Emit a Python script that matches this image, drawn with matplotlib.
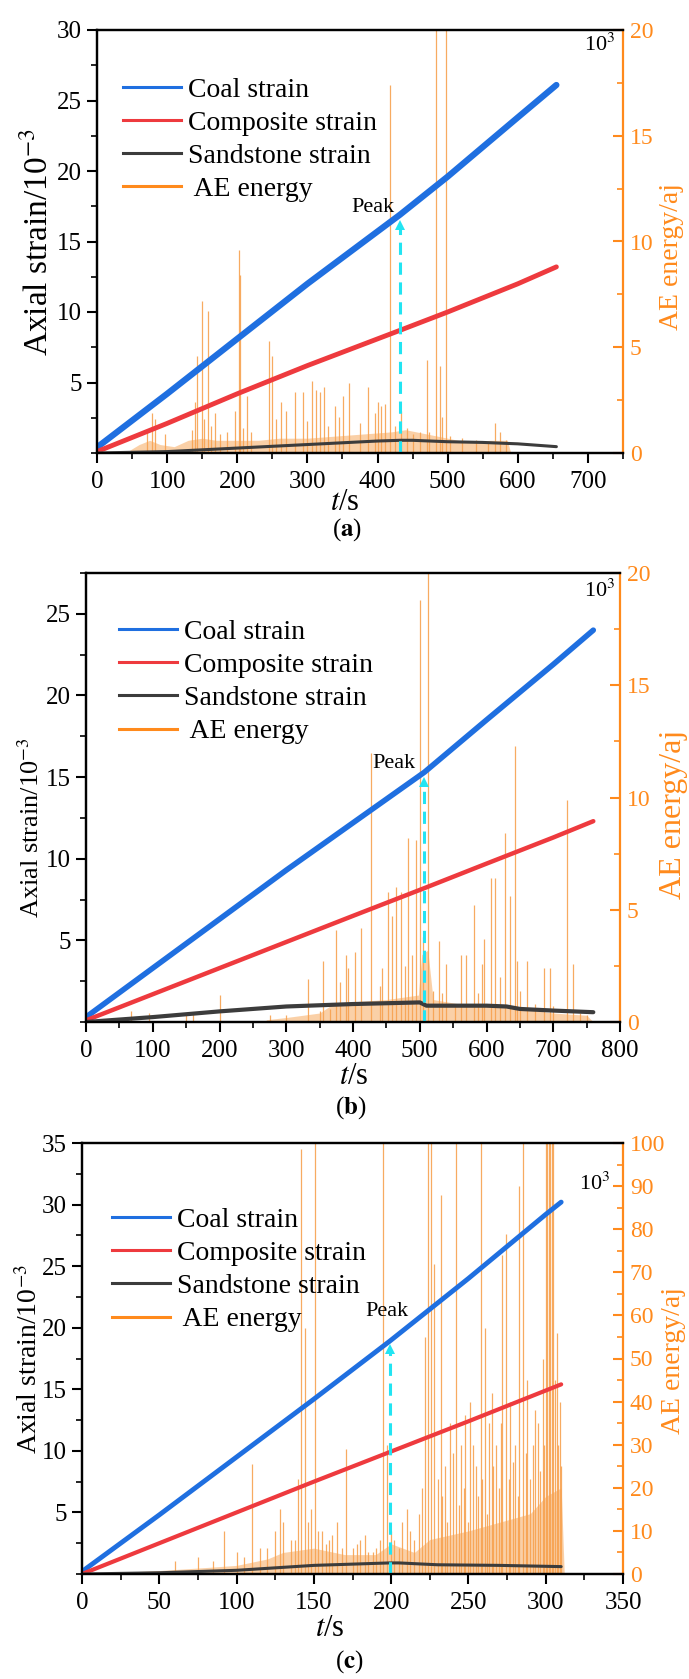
import matplotlib
matplotlib.use("Agg")
import matplotlib.pyplot as plt
from matplotlib.lines import Line2D
from matplotlib.ticker import MultipleLocator

plt.rcParams['font.family'] = ['Liberation Serif', 'DejaVu Serif']
plt.rcParams['mathtext.fontset'] = 'stix'

W, H = 689, 1679

COAL_C = "#1f6fe0"
COMP_C = "#ee3a3e"
SAND_C = "#3c3c3c"
AE_C = "#ff8a1c"
SPIKE_C = "#f7a250"
PEAK_C = "#22e4f2"

# ---------------- panel (a) ----------------
A_T = [0, 100, 200, 300, 432, 500, 600, 655]
A_COAL = [0.4, 4.2, 8.1, 12.0, 16.9, 19.6, 23.8, 26.1]
A_COMP = [0.1, 2.1, 4.2, 6.2, 8.7, 10.0, 12.0, 13.2]
A_SAND_T = [0, 100, 200, 300, 400, 432, 450, 500, 550, 600, 655]
A_SAND = [0.0, 0.1, 0.35, 0.6, 0.85, 0.9, 0.9, 0.8, 0.75, 0.65, 0.45]
A_AE_T = [72, 78, 83, 97, 135, 140, 143, 150, 153, 158, 163, 168, 175, 185, 197,
          202, 204, 208, 214, 220, 245, 250, 255, 262, 270, 282, 294, 300, 307,
          312, 318, 323, 330, 340, 345, 351, 360, 375, 387, 396, 400, 405, 411,
          418, 425, 433, 442, 450, 460, 470, 474, 483, 489, 492, 498, 503, 520,
          540, 558, 568, 575, 583]
A_AE = [1.0, 1.9, 1.6, 0.9, 1.1, 2.4, 4.6, 7.2, 1.6, 6.7, 1.3, 1.9, 0.9, 1.0, 2.0,
        9.6, 8.4, 1.2, 2.7, 1.0, 5.3, 4.6, 1.6, 2.4, 2.0, 2.9, 2.9, 1.5, 3.4,
        3.0, 2.9, 3.1, 1.3, 2.2, 1.7, 2.7, 3.3, 1.4, 3.1, 1.9, 2.4, 2.2, 2.3,
        17.4, 1.3, 2.0, 1.2, 0.9, 1.0, 4.4, 1.0, 20.5, 4.1, 1.7, 20.5, 0.8, 0.7,
        0.6, 0.5, 1.4, 1.0, 0.6]
A_GRASS_T = [45, 60, 75, 90, 110, 130, 150, 170, 200, 230, 260, 300, 340, 380,
             420, 440, 470, 500, 530, 560, 585, 590]
A_GRASS = [0.1, 0.4, 0.6, 0.4, 0.3, 0.6, 0.7, 0.6, 0.6, 0.6, 0.7, 0.7, 0.8, 0.9,
           1.0, 1.1, 0.9, 0.7, 0.5, 0.6, 0.6, 0.0]
A_PEAK = (432, 16.8)
A_YTICKS = [5, 10, 15, 20, 25, 30]
A_XTICKS = [0, 100, 200, 300, 400, 500, 600, 700]
A_RTICKS = [0, 5, 10, 15, 20]

# ---------------- panel (b) ----------------
B_T = [0, 100, 200, 300, 400, 507, 600, 700, 760]
B_COAL = [0.3, 3.3, 6.3, 9.3, 12.2, 15.3, 18.5, 21.9, 24.0]
B_COMP = [0.1, 1.7, 3.3, 4.9, 6.5, 8.2, 9.7, 11.3, 12.3]
B_SAND_T = [0, 100, 200, 300, 400, 500, 510, 600, 630, 650, 700, 760]
B_SAND = [0.0, 0.3, 0.65, 0.95, 1.1, 1.2, 1.0, 1.0, 0.95, 0.8, 0.7, 0.6]
B_AE_T = [67, 95, 150, 160, 200, 275, 300, 332, 350, 355, 365, 374, 381, 389,
          393, 403, 412, 427, 440, 443, 452, 459, 465, 472, 478, 482, 488, 495,
          501, 505, 513, 520, 529, 533, 540, 553, 562, 569, 582, 588, 593, 597,
          607, 613, 620, 627, 635, 642, 646, 650, 661, 672, 686, 695, 700, 721,
          729, 740, 750]
B_AE = [0.5, 0.4, 0.3, 0.4, 1.2, 0.3, 0.3, 1.9, 0.5, 2.7, 0.6, 4.1, 1.8, 3.0,
        2.4, 3.1, 4.2, 12.0, 1.6, 2.4, 5.8, 4.7, 6.0, 5.8, 2.5, 8.2, 3.0, 8.1,
        18.8, 3.8, 20.5, 1.4, 3.6, 1.3, 2.6, 0.8, 3.0, 3.0, 5.2, 1.3, 2.6, 3.7,
        6.4, 6.4, 2.0, 8.4, 5.6, 12.3, 2.7, 1.4, 2.7, 0.8, 2.4, 2.4, 0.7, 9.9,
        2.6, 0.4, 0.3]
B_GRASS_T = [270, 300, 350, 370, 400, 450, 498, 503, 512, 520, 560, 600, 650,
             700, 750, 760]
B_GRASS = [0.1, 0.2, 0.4, 0.8, 0.9, 1.0, 1.2, 3.0, 3.2, 1.0, 0.8, 0.8, 0.6,
           0.4, 0.3, 0.0]
B_PEAK = (507, 15.3)
B_YTICKS = [5, 10, 15, 20, 25]
B_XTICKS = [0, 100, 200, 300, 400, 500, 600, 700, 800]
B_RTICKS = [0, 5, 10, 15, 20]

# ---------------- panel (c) ----------------
C_T = [0, 50, 100, 150, 199, 250, 300, 310]
C_COAL = [0.2, 4.8, 9.5, 14.2, 18.9, 24.0, 29.2, 30.2]
C_COMP = [0.0, 2.5, 5.0, 7.5, 9.9, 12.4, 14.9, 15.4]
C_SAND_T = [0, 50, 100, 150, 199, 205, 230, 270, 310]
C_SAND = [0.0, 0.1, 0.3, 0.7, 0.9, 0.9, 0.75, 0.7, 0.6]
C_AE_T = [60, 75, 85, 92, 100, 105, 110, 115, 120, 125, 128, 130, 135, 138, 140,
          142, 144, 146, 148, 151, 153, 155, 158, 160, 162, 165, 168, 171, 175,
          178, 180, 183, 185, 188, 190, 193, 195, 197, 200, 202, 205, 207, 210,
          212, 215, 218, 220, 222, 224, 226, 228, 230, 232, 233, 235, 236, 238,
          240, 242, 244, 245, 247, 248, 250, 251, 253, 255, 256, 258, 259, 261,
          262, 263, 265, 266, 268, 270, 271, 272, 274, 276, 277, 279, 280, 282,
          283, 285, 287, 288, 290, 292, 293, 295, 296, 298, 299, 300, 301, 302,
          303, 304, 305, 306, 307, 308, 309, 310]
C_AE = [3, 4, 3, 10, 5, 4, 25.6, 6, 6, 10, 15, 12, 8, 8, 22,
        98.5, 57, 12, 15, 101, 10, 10, 7, 8, 9, 12, 6, 29, 6,
        7, 8, 9, 5, 5, 6, 8, 101, 30, 10, 8, 6, 12, 15,
        10, 8, 14, 20, 55, 101, 101, 72, 22, 88, 18, 25, 12, 35,
        28, 101, 16, 30, 20, 37, 12, 40, 30, 25, 18, 101, 22, 57,
        14, 35, 42, 25, 30, 20, 35, 74, 79, 22, 40, 26, 30, 18,
        90, 101, 28, 45, 22, 30, 38, 35, 24, 50, 30, 101, 101, 101,
        101, 101, 101, 45, 56, 30, 40, 25]
C_GRASS_T = [20, 50, 80, 100, 120, 130, 150, 170, 190, 200, 215, 225, 250, 270,
             290, 300, 310, 312]
C_GRASS = [0.3, 0.8, 1.5, 2.0, 3.5, 5.0, 6.0, 4.5, 4.5, 7.0, 5.0, 8.0, 10.0,
           12.0, 14.0, 18.0, 20.0, 0.0]
C_PEAK = (199, 18.9)
C_YTICKS = [5, 10, 15, 20, 25, 30, 35]
C_XTICKS = [0, 50, 100, 150, 200, 250, 300, 350]
C_RTICKS = [0, 10, 20, 30, 40, 50, 60, 70, 80, 90, 100]


def px(x, y):
    """pixel position (from top-left) -> figure fraction"""
    return x / W, 1 - y / H


def draw_panel(fig, box, p):
    l, t, r, b = box
    x0, y1 = px(l, t)
    x1, y0 = px(r, b)
    ax = fig.add_axes([x0, y0, x1 - x0, y1 - y0])
    ax2 = ax.twinx()
    # strain axes on top of the AE spikes
    ax.set_zorder(ax2.get_zorder() + 1)
    ax.patch.set_visible(False)

    # AE energy
    ax2.fill_between(p["grass_t"], 0, p["grass"], color=SPIKE_C, alpha=0.5, lw=0)
    ax2.vlines(p["ae_t"], 0, p["ae"], color=SPIKE_C, lw=0.9, alpha=0.9)
    ax2.set_ylim(0, p["rmax"])
    ax2.set_yticks(p["rticks"])
    ax2.yaxis.set_minor_locator(MultipleLocator(p["rminor"]))
    ax2.tick_params(axis="y", which="major", direction="in", length=7, width=1.5,
                    colors=AE_C, labelsize=17, pad=5)
    ax2.tick_params(axis="y", which="minor", direction="in", length=4, width=1.2,
                    colors=AE_C)
    ax2.spines["right"].set_color(AE_C)
    for s in ax2.spines.values():
        s.set_linewidth(1.6)

    # strains
    ax.plot(p["t"], p["coal"], color=COAL_C, lw=p["lw"][0], solid_capstyle="round")
    ax.plot(p["t"], p["comp"], color=COMP_C, lw=p["lw"][1], solid_capstyle="round")
    ax.plot(p["sand_t"], p["sand"], color=SAND_C, lw=p["lw"][2], solid_capstyle="round")

    # peak arrow
    pt, ps = p["peak"]
    ax.plot([pt, pt], [0, ps - 0.9], color=PEAK_C, lw=2.2, ls=(0, (4, 2.5)))
    ax.plot([pt], [ps - 0.6], marker="^", color=PEAK_C, ms=7, mew=0)

    ax.set_xlim(0, p["xmax"])
    ax.set_ylim(0, p["ymax"])
    ax.set_xticks(p["xticks"])
    ax.set_yticks(p["yticks"])
    ax.xaxis.set_minor_locator(MultipleLocator(p["xminor"]))
    ax.yaxis.set_minor_locator(MultipleLocator(2.5))
    ax.tick_params(which="major", direction="out", length=7, width=1.5,
                   labelsize=18, pad=4)
    ax.tick_params(which="minor", direction="out", length=4, width=1.2)
    ax.tick_params(axis="x", pad=6)
    for name in ["left", "bottom", "top"]:
        ax.spines[name].set_linewidth(1.6)
    ax.spines["right"].set_visible(False)

    handles = [
        Line2D([], [], color=COAL_C, lw=2.2),
        Line2D([], [], color=COMP_C, lw=2.2),
        Line2D([], [], color=SAND_C, lw=2.2),
        Line2D([], [], color=AE_C, lw=2.2),
    ]
    labels = ["Coal strain", "Composite strain", "Sandstone strain", " AE energy"]
    ax.legend(handles, labels, loc="upper left", bbox_to_anchor=p["leg"],
              frameon=False, fontsize=20, handlelength=2.1,
              handletextpad=0.25, labelspacing=0.28, borderaxespad=0)

    # texts
    fig.text(*px(*p["ylab_pos"]), "Axial strain/10$^{\u22123}$", rotation=90,
             ha="center", va="center", fontsize=p["ylabfs"])
    fig.text(*px(*p["rlab_pos"]), "AE energy/aj", rotation=90, ha="center",
             va="center", fontsize=p["rlabfs"], color=AE_C)
    fig.text(*px(*p["exp_pos"]), "10$^3$", ha="center", va="center", fontsize=16)
    fig.text(*px(*p["peak_pos"]), "Peak", ha="center", va="center", fontsize=16)
    fig.text(*px(*p["xlab_pos"]), "$t$/s", ha="center", va="center", fontsize=22)
    fig.text(*px(*p["cap_pos"]), p["cap"], ha="center", va="center", fontsize=18)


def main():
    fig = plt.figure(figsize=(W / 100, H / 100), dpi=100)

    panels = [
        ((97, 30, 623, 453), dict(
            t=A_T, coal=A_COAL, comp=A_COMP, sand_t=A_SAND_T, sand=A_SAND,
            ae_t=A_AE_T, ae=A_AE, grass_t=A_GRASS_T, grass=A_GRASS, peak=A_PEAK,
            xmax=750, ymax=30, xticks=A_XTICKS, yticks=A_YTICKS, xminor=50,
            rmax=20, rticks=A_RTICKS, rminor=2.5, lw=(4.5, 3.5, 2.2),
            leg=(0.0285, 0.915), ylabfs=24, rlabfs=20,
            ylab_pos=(38, 242), rlab_pos=(672, 257), exp_pos=(600, 45),
            peak_pos=(373, 207), xlab_pos=(345, 502), cap_pos=(347, 530),
            cap="($\\mathbf{a}$)")),
        ((86, 573, 620, 1022), dict(
            t=B_T, coal=B_COAL, comp=B_COMP, sand_t=B_SAND_T, sand=B_SAND,
            ae_t=B_AE_T, ae=B_AE, grass_t=B_GRASS_T, grass=B_GRASS, peak=B_PEAK,
            xmax=800, ymax=27.5, xticks=B_XTICKS, yticks=B_YTICKS, xminor=50,
            rmax=20, rticks=B_RTICKS, rminor=2.5, lw=(4.0, 3.2, 3.0),
            leg=(0.041, 0.922), ylabfs=19, rlabfs=23,
            ylab_pos=(31, 828), rlab_pos=(673, 814), exp_pos=(600, 591),
            peak_pos=(394, 763), xlab_pos=(354, 1076), cap_pos=(351, 1108),
            cap="($\\mathbf{b}$)")),
        ((82, 1143, 623, 1574), dict(
            t=C_T, coal=C_COAL, comp=C_COMP, sand_t=C_SAND_T, sand=C_SAND,
            ae_t=C_AE_T, ae=C_AE, grass_t=C_GRASS_T, grass=C_GRASS, peak=C_PEAK,
            xmax=350, ymax=35, xticks=C_XTICKS, yticks=C_YTICKS, xminor=25,
            rmax=100, rticks=C_RTICKS, rminor=5, lw=(3.5, 3.0, 2.2),
            leg=(0.035, 0.877), ylabfs=20, rlabfs=20,
            ylab_pos=(30, 1359), rlab_pos=(674, 1360), exp_pos=(595, 1184),
            peak_pos=(387, 1312), xlab_pos=(330, 1629), cap_pos=(349, 1662),
            cap="($\\mathbf{c}$)")),
    ]
    for box, p in panels:
        draw_panel(fig, box, p)

    fig.savefig("out.png", dpi=100)
    plt.close(fig)


if __name__ == "__main__":
    main()
